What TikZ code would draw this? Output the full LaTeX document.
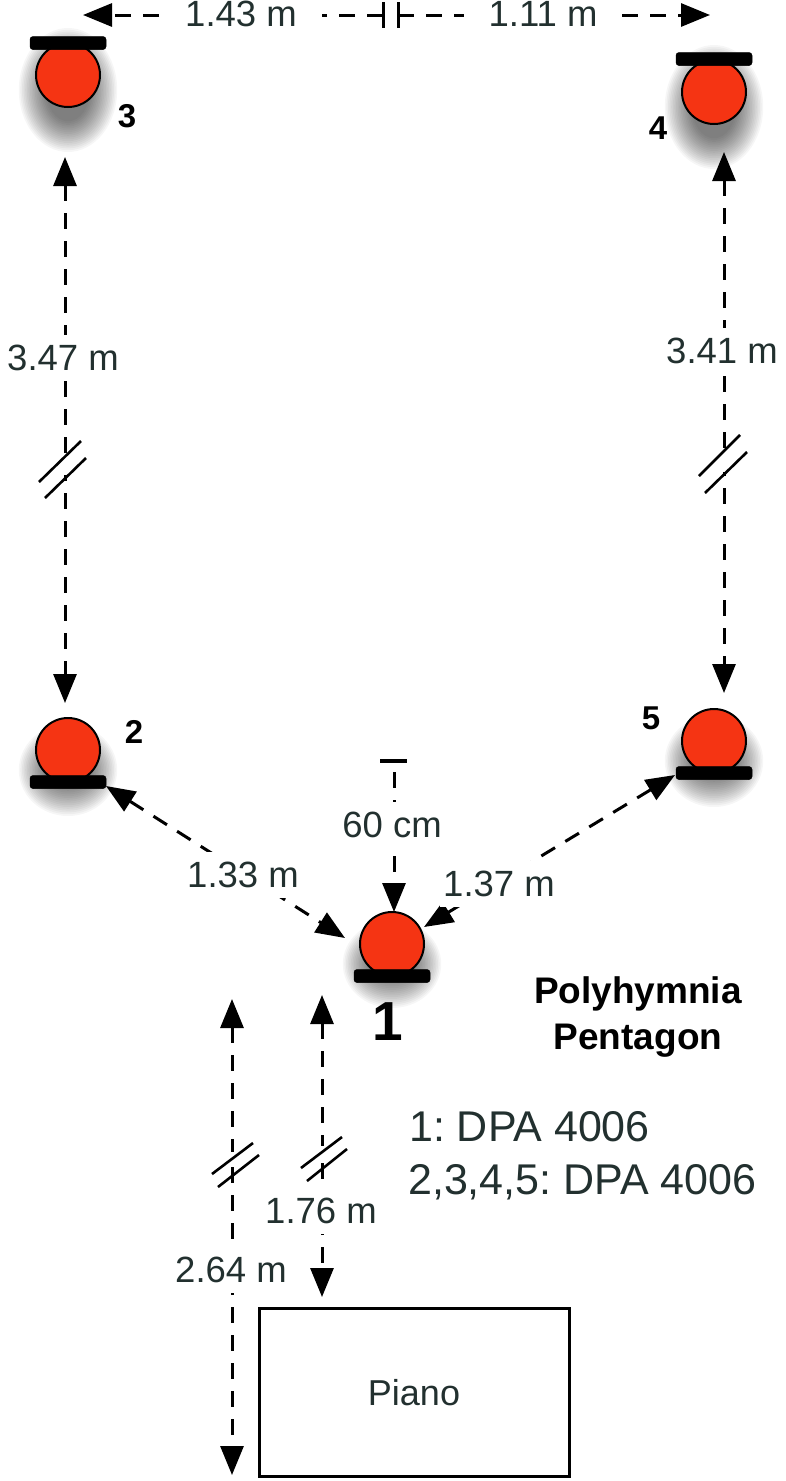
\documentclass[tikz,border=0pt]{standalone}
\usepackage{fontspec}
\setmainfont{Liberation Sans}
\usetikzlibrary{arrows.meta,shapes.geometric}
\definecolor{micred}{HTML}{F53413}
\definecolor{txt}{HTML}{22302F}
\tikzset{
  dim/.style={line width=3pt,dash pattern=on 16pt off 12pt,black},
  tipA/.style={-{Triangle[length=29pt,width=23pt]}},
  tipB/.style={{Triangle[length=29pt,width=23pt]}-{Triangle[length=29pt,width=23pt]}},
  lab/.style={text=txt,font=\fontsize{36.5}{36.5}\selectfont,fill=white,inner xsep=3pt,inner ysep=10pt},
  num/.style={text=black,font=\bfseries\fontsize{33}{33}\selectfont,inner sep=0pt},
  head/.style={text=black,font=\bfseries\fontsize{37}{47}\selectfont,align=center,inner sep=0pt},
  info/.style={text=txt,font=\fontsize{43}{43}\selectfont,anchor=west,inner sep=0pt},
  bar/.style={draw=black,fill=black,rounded corners=3pt,minimum width=76pt,minimum height=13pt,inner sep=0pt,line width=0.5pt},
  capsule/.style={ellipse,draw=black,fill=micred,line width=2pt,minimum width=64pt,minimum height=64pt,inner sep=0pt},
  slash/.style={line width=2.6pt,black},
  tick/.style={line width=3pt,black},
}
% name, x, capsule y, bar y, shadow centre y, shadow radius y
\newcommand{\micro}[6]{%
  \foreach \k in {0,...,17}{%
    \fill[black,opacity=.035] (#2,#5) ellipse ({22+1.6*\k} and {#6-1.8*(17-\k)});
  }
  \node[capsule] (#1) at (#2,#3) {};
  \node[bar] (#1b) at (#2,#4) {};
}
\begin{document}
\begin{tikzpicture}[x=1pt,y=-1pt]
\useasboundingbox (0,0) rectangle (785,1481);
\clip (0,0) rectangle (785,1481);
\fill[white] (0,0) rectangle (785,1481);
\frenchspacing

\micro{m3}{68}{75}{43}{90}{62}
\micro{m4}{714}{92}{59}{107}{62}
\micro{m2}{68}{750}{782}{770}{46}
\micro{m5}{714}{741}{773}{761}{46}
\micro{m1}{392}{944}{976}{964}{44}

\node[num] (n3) at (127,116) {3};
\node[num] (n4) at (658,128) {4};
\node[num] (n2) at (134,732) {2};
\node[num] (n5) at (651,718) {5};
\node[text=black,font=\bfseries\fontsize{55}{55}\selectfont,inner sep=0pt] (n1) at (388,1022) {1};
\node[head] (title) at (638,1017) {Polyhymnia\\Pentagon};
\node[info] (i1) at (409,1127) {1: DPA 4006};
\node[info] (i2) at (408,1182) {2,3,4,5: DPA 4006};
\node[draw=black,line width=3pt,minimum width=310pt,minimum height=168pt,inner sep=0pt,text=txt,font=\fontsize{36}{36}\selectfont] (piano) at (414,1392.5) {Piano};

% endpoints
\coordinate (tl) at (83,15);
\coordinate (tt1) at (383,15);
\coordinate (tt2) at (398,15);
\coordinate (tr) at (710,15);
\coordinate (a3) at (65,157);
\coordinate (a2) at (65,703);
\coordinate (a4) at (724,152);
\coordinate (a5) at (724,693);
\coordinate (d2) at (106,786);
\coordinate (d1l) at (345,938);
\coordinate (d5) at (675,775);
\coordinate (d1r) at (424,927);
\coordinate (c0) at (394,772);
\coordinate (c1) at (394,912);
\coordinate (p1) at (232,999);
\coordinate (p2) at (232,1475);
\coordinate (q1) at (322,995);
\coordinate (q2) at (322,1297);

% connectors
\draw[dim,tipA] (tt1) -- (tl);
\draw[dim,tipA] (tt2) -- (tr);
\draw[dim,tipB] (a3) -- (a2);
\draw[dim,tipB] (a4) -- (a5);
\draw[dim,tipB] (d2) -- (d1l);
\draw[dim,tipB] (d5) -- (d1r);
\draw[dim,tipA] (c0) -- (c1);
\draw[dim,tipB] (p1) -- (p2);
\draw[dim,tipB] (q1) -- (q2);

% ticks
\draw[tick] (383,2) -- (383,28);
\draw[tick] (398,2) -- (398,28);
\draw[tick,line width=3.5pt] (380,761) -- (407,761);

% breaks
\fill[white] (40,461) -- (85,461) -- (85,475) -- (40,475) -- cycle;
\fill[white] (700,458) -- (745,458) -- (745,472) -- (700,472) -- cycle;
\fill[white] (212,1152) -- (255,1152) -- (255,1166) -- (212,1166) -- cycle;
\fill[white] (302,1146) -- (342,1146) -- (342,1160) -- (302,1160) -- cycle;
\draw[slash] (39,482) -- (81,441);
\draw[slash] (45,498) -- (86,458);
\draw[slash] (699,476) -- (740,435);
\draw[slash] (705,493) -- (747,452);
\draw[slash] (212,1174) -- (253,1143);
\draw[slash] (218,1187) -- (259,1155);
\draw[slash] (301,1168) -- (342,1137);
\draw[slash] (307,1181) -- (347,1149);

% labels
\node[lab,inner xsep=25pt] (l143) at (241,14) {1.43 m};
\node[lab,inner xsep=25pt] (l111) at (543,14) {1.11 m};
\node[lab] (l347) at (63,358) {3.47 m};
\node[lab] (l341) at (722,351) {3.41 m};
\node[lab] (l60) at (392,825) {60 cm};
\node[lab] (l133) at (243,875) {1.33 m};
\node[lab] (l137) at (499,884) {1.37 m};
\node[lab] (l176) at (321,1211) {1.76 m};
\node[lab] (l264) at (231,1270) {2.64 m};
\end{tikzpicture}
\end{document}
